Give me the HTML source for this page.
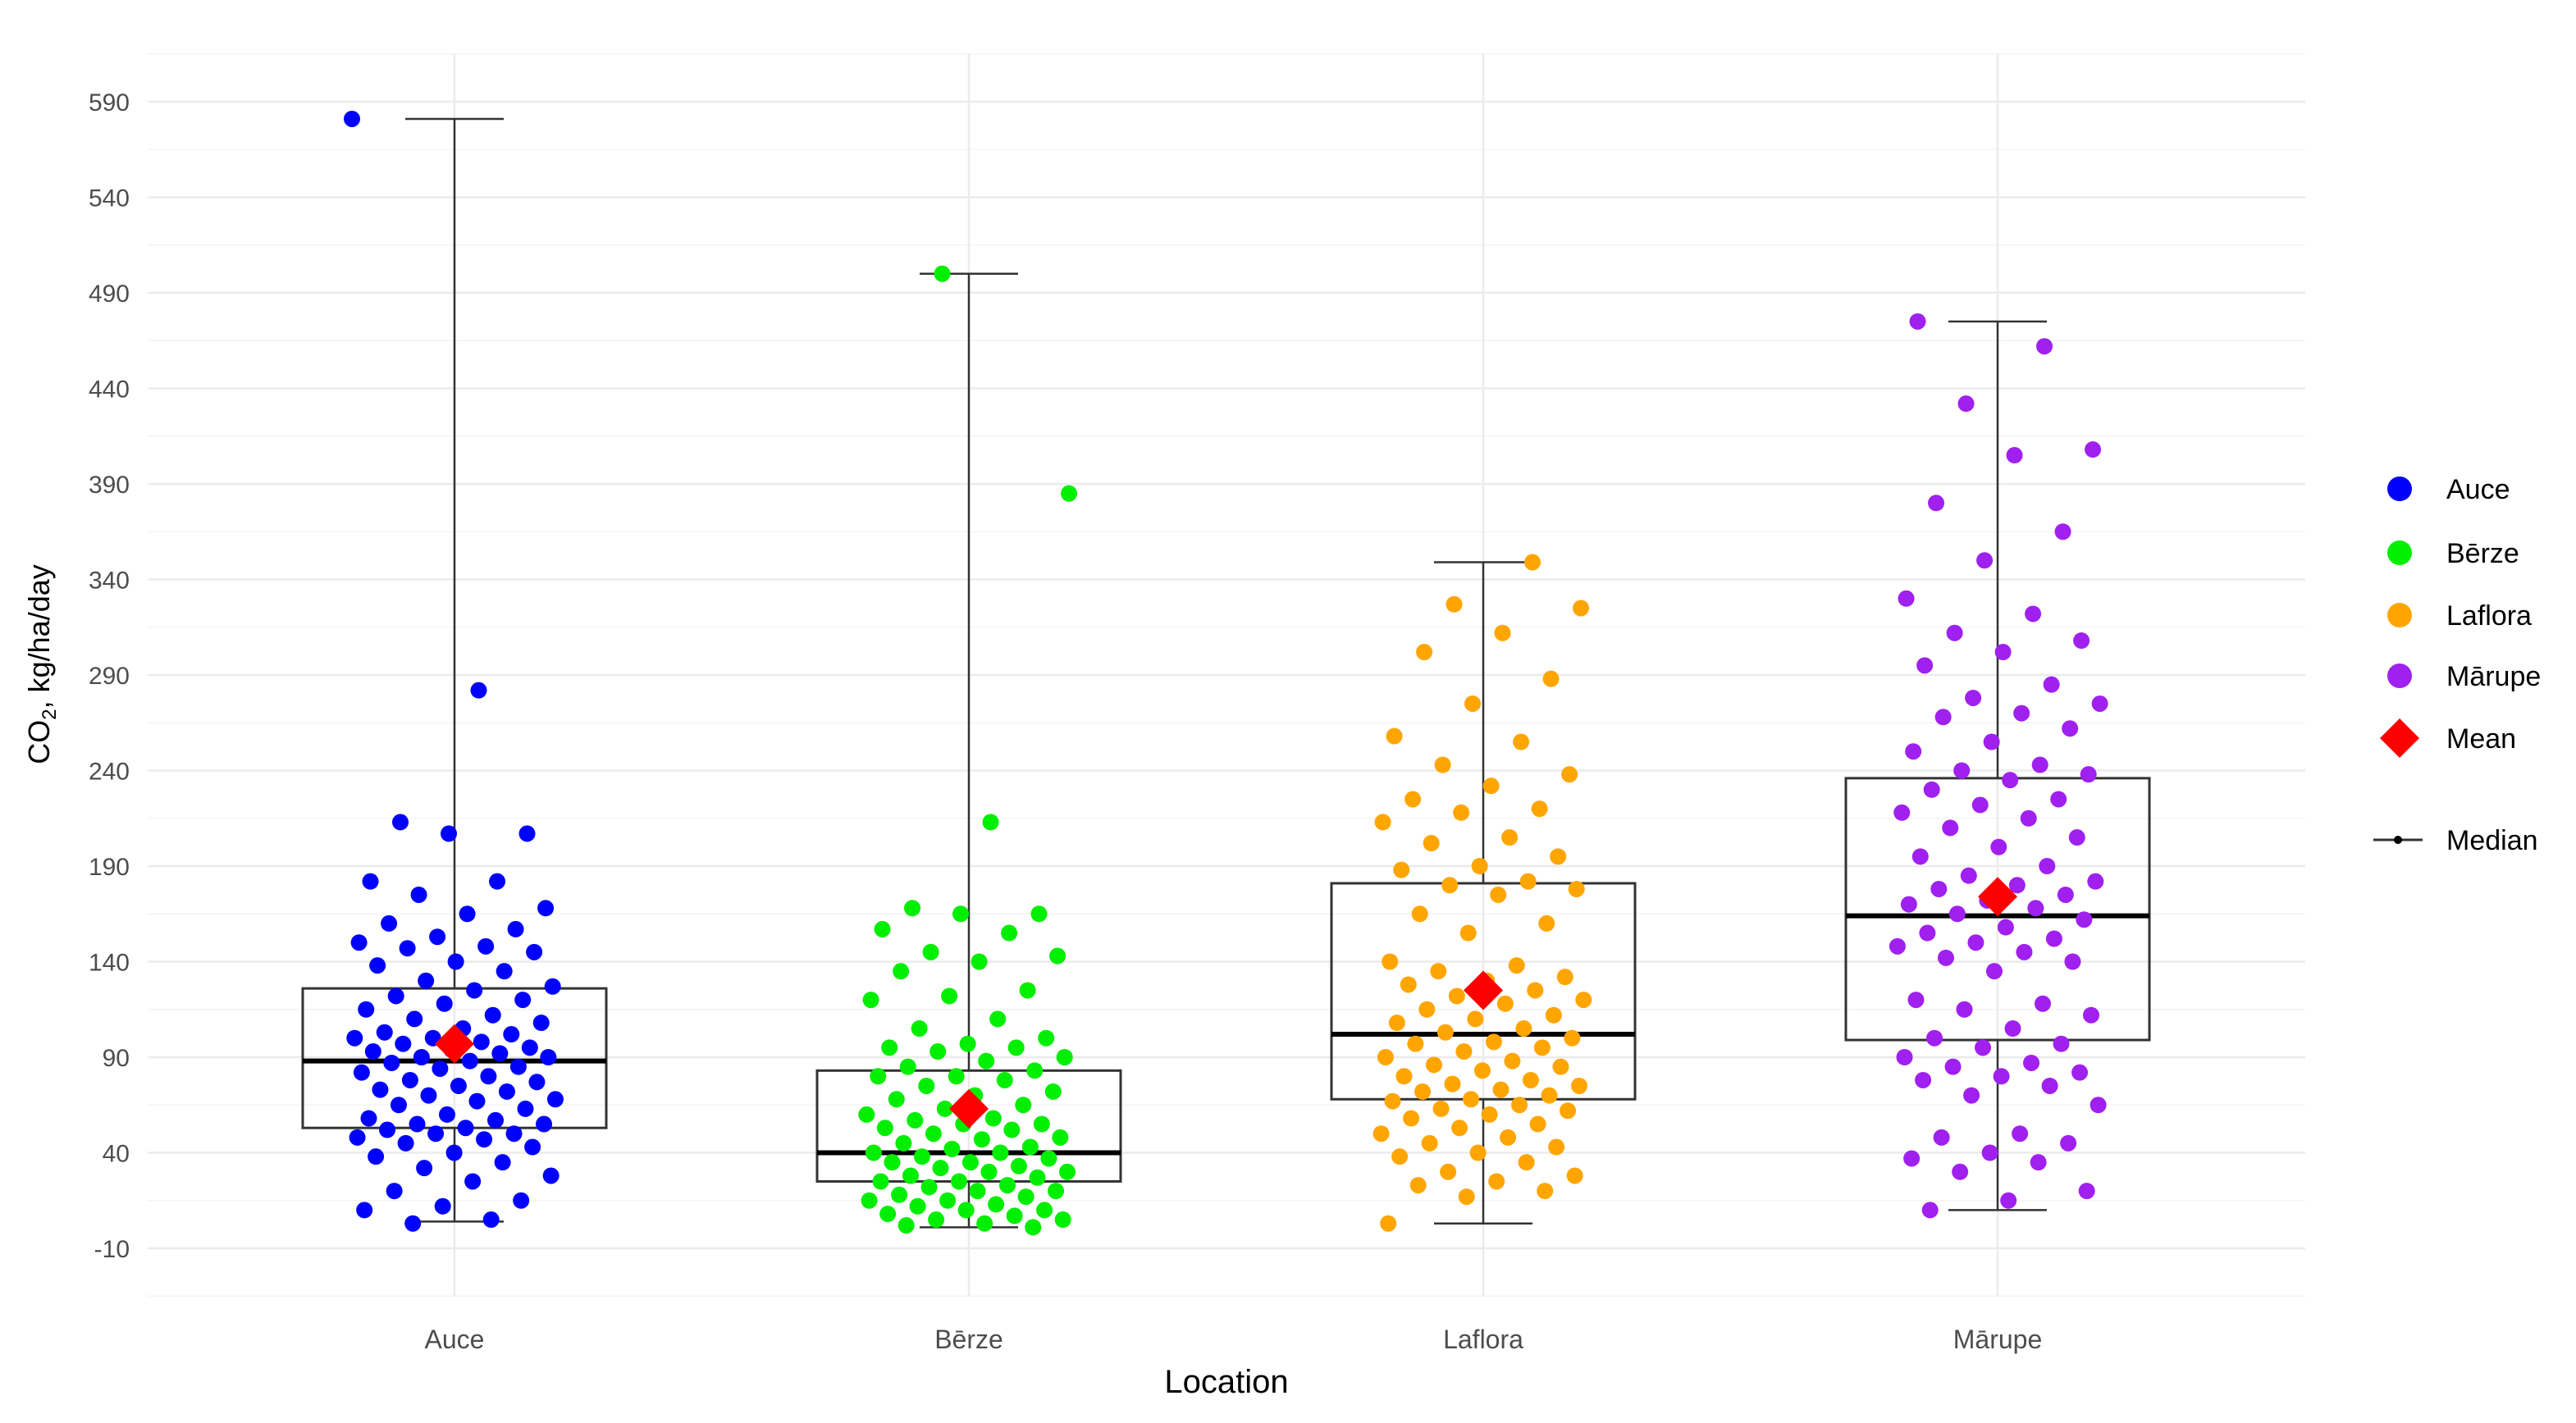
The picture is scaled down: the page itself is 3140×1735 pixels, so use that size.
<!DOCTYPE html>
<html><head><meta charset="utf-8">
<style>
html,body{margin:0;padding:0;background:#fff;}
svg{display:block;font-family:"Liberation Sans",sans-serif;}
</style></head>
<body>
<svg id="chart" width="3140" height="1735" viewBox="0 0 3140 1735" xmlns="http://www.w3.org/2000/svg">
<g id="grid"></g>
<g id="yticks"></g>
<g id="xticks"></g>
<g id="boxes"></g>
<g id="points"></g>
<g id="means"></g>
<text x="1495" y="1698" font-size="40" text-anchor="middle" fill="#000">Location</text>
<text transform="translate(60,810) rotate(-90)" font-size="36" text-anchor="middle" fill="#000">CO<tspan font-size="24" dy="8">2</tspan><tspan dy="-8">, kg/ha/day</tspan></text>
<g id="legend"></g>
</svg>
<script>
const categories = ["Auce","Bērze","Laflora","Mārupe"];
const colors = ["#0000ff","#00ee00","#ffa500","#a020f0"];
const q1 = [53, 25, 68, 99];
const medians = [88, 40, 102, 164];
const q3 = [126, 83, 181, 236];
const whiskerLow = [4, 1, 3, 10];
const whiskerHigh = [581, 500, 349, 475];
const means = [97, 63, 125, 174];
const yTicks = [-10,40,90,140,190,240,290,340,390,440,490,540,590];
const aucePts = [581,282,213,207,207,182,182,175,168,165,160,157,153,150,148,147,145,140,138,135,130,127,125,122,120,118,115,112,110,108,105,103,102,100,100,98,97,95,94,93,92,90,90,88,87,85,84,82,80,78,77,75,73,72,70,68,67,65,63,60,58,57,55,55,53,52,50,50,48,47,45,43,40,38,35,32,28,25,20,15,12,10,5,3];
const berzePts = [500,385,213,168,165,165,157,155,145,143,140,135,125,122,120,110,105,100,97,95,95,93,90,88,85,83,80,80,78,75,72,70,68,65,63,60,58,57,55,55,53,52,50,48,47,45,43,42,40,40,38,37,35,35,33,32,30,30,28,27,25,25,23,22,20,20,18,17,15,15,13,12,10,10,8,7,5,5,3,2,1];
const lafloraPts = [349,327,325,312,302,288,275,258,255,243,238,232,225,220,218,213,205,202,195,190,188,182,180,178,175,165,160,155,140,138,135,132,130,128,125,122,120,118,115,112,110,108,105,103,100,98,97,95,93,90,88,86,85,83,80,78,76,75,73,72,70,68,67,65,63,62,60,58,55,53,50,48,45,43,40,38,35,30,28,25,23,20,17,3];
const marupePts = [475,462,432,408,405,380,365,350,330,322,312,308,302,295,285,278,275,270,268,262,255,250,243,240,238,235,230,225,222,218,215,210,205,200,195,190,185,182,180,178,175,172,170,168,165,162,158,155,152,150,148,145,142,140,135,120,118,115,112,105,100,97,95,90,87,85,82,80,78,75,70,65,50,48,45,40,37,35,30,20,15,10];
const seriesPts = [aucePts, berzePts, lafloraPts, marupePts];

const NS = "http://www.w3.org/2000/svg";
const X0 = 180, X1 = 2810;
function y(v){ return 1522 - (v + 10) * 2.33; }
function x(i){ return 554 + i * 627; }
function mk(tag, attrs, parent){ const e = document.createElementNS(NS, tag); for (const k in attrs) e.setAttribute(k, attrs[k]); parent.appendChild(e); return e; }
const grid = document.getElementById("grid");
for (let v = -35; v <= 615; v += 25) {
  const major = ((v + 10) % 50) === 0;
  const l = mk("line", {x1:X0, x2:X1, y1:y(v), y2:y(v), stroke: major ? "#ebebeb" : "#f4f4f4", "stroke-width": major ? 2.5 : 1.5}, grid);
  
  
}
categories.forEach((c, i) => {
  const l = mk("line", {x1:x(i), x2:x(i), y1:y(615), y2:y(-35), stroke:"#ebebeb", "stroke-width":2.5}, grid);
  
  
});
const yt = document.getElementById("yticks");
yTicks.forEach(v => {
  const t = mk("text", {x:158, y:y(v)+11, "font-size":30, "text-anchor":"end", fill:"#4d4d4d"}, yt);
  t.textContent = v;
  
  
});
const xt = document.getElementById("xticks");
categories.forEach((c, i) => {
  const t = mk("text", {x:x(i), y:1644, "font-size":32, "text-anchor":"middle", fill:"#4d4d4d"}, xt);
  t.textContent = c;
  
  
});
const bx = document.getElementById("boxes");
categories.forEach((c, i) => {
  const cx = x(i), hw = 185;
  const g = mk("g", {}, bx);
  
  
  mk("line", {x1:cx, x2:cx, y1:y(q3[i]), y2:y(whiskerHigh[i]), stroke:"#333", "stroke-width":2.5}, g);
  mk("line", {x1:cx, x2:cx, y1:y(q1[i]), y2:y(whiskerLow[i]), stroke:"#333", "stroke-width":2.5}, g);
  mk("line", {x1:cx-60, x2:cx+60, y1:y(whiskerHigh[i]), y2:y(whiskerHigh[i]), stroke:"#333", "stroke-width":2.5}, g);
  mk("line", {x1:cx-60, x2:cx+60, y1:y(whiskerLow[i]), y2:y(whiskerLow[i]), stroke:"#333", "stroke-width":2.5}, g);
  mk("rect", {x:cx-hw, y:y(q3[i]), width:2*hw, height:y(q1[i])-y(q3[i]), fill:"none", stroke:"#333", "stroke-width":3}, g);
  mk("line", {x1:cx-hw, x2:cx+hw, y1:y(medians[i]), y2:y(medians[i]), stroke:"#000", "stroke-width":6}, g);
});
const pg = document.getElementById("points");
seriesPts.forEach((arr, i) => {
  arr.forEach((v, k) => {
    const j = (((k * 0.6180339 + i * 0.37) % 1) * 2 - 1) * 125;
    const p = mk("circle", {cx:x(i)+j, cy:y(v), r:10, fill:colors[i]}, pg);
    
    
  });
});
const mg = document.getElementById("means");
means.forEach((m, i) => {
  const cx = x(i), cy = y(m), d = 24;
  const p = mk("polygon", {points:`${cx},${cy-d} ${cx+d},${cy} ${cx},${cy+d} ${cx-d},${cy}`, fill:"#ff0000"}, mg);
  
  
});
const lg = document.getElementById("legend");
const legYs = [596, 674, 750, 824, 900];
const legLabels = categories.concat(["Mean"]);
legLabels.forEach((lab, i) => {
  const g = mk("g", {}, lg);
  
  
  if (i < 4) mk("circle", {cx:2925, cy:legYs[i], r:15, fill:colors[i]}, g);
  else { const d = 24; mk("polygon", {points:`2925,${legYs[i]-d} ${2925+d},${legYs[i]} 2925,${legYs[i]+d} ${2925-d},${legYs[i]}`, fill:"#ff0000"}, g); }
  const t = mk("text", {x:2982, y:legYs[i]+12, "font-size":34, fill:"#000"}, g);
  t.textContent = lab;
});
const mgl = mk("g", {}, lg);


mk("line", {x1:2893, x2:2953, y1:1024, y2:1024, stroke:"#333", "stroke-width":3}, mgl);
mk("circle", {cx:2923, cy:1024, r:5, fill:"#000"}, mgl);
const mt = mk("text", {x:2982, y:1036, "font-size":34, fill:"#000"}, mgl);
mt.textContent = "Median";
</script>
</body></html>
